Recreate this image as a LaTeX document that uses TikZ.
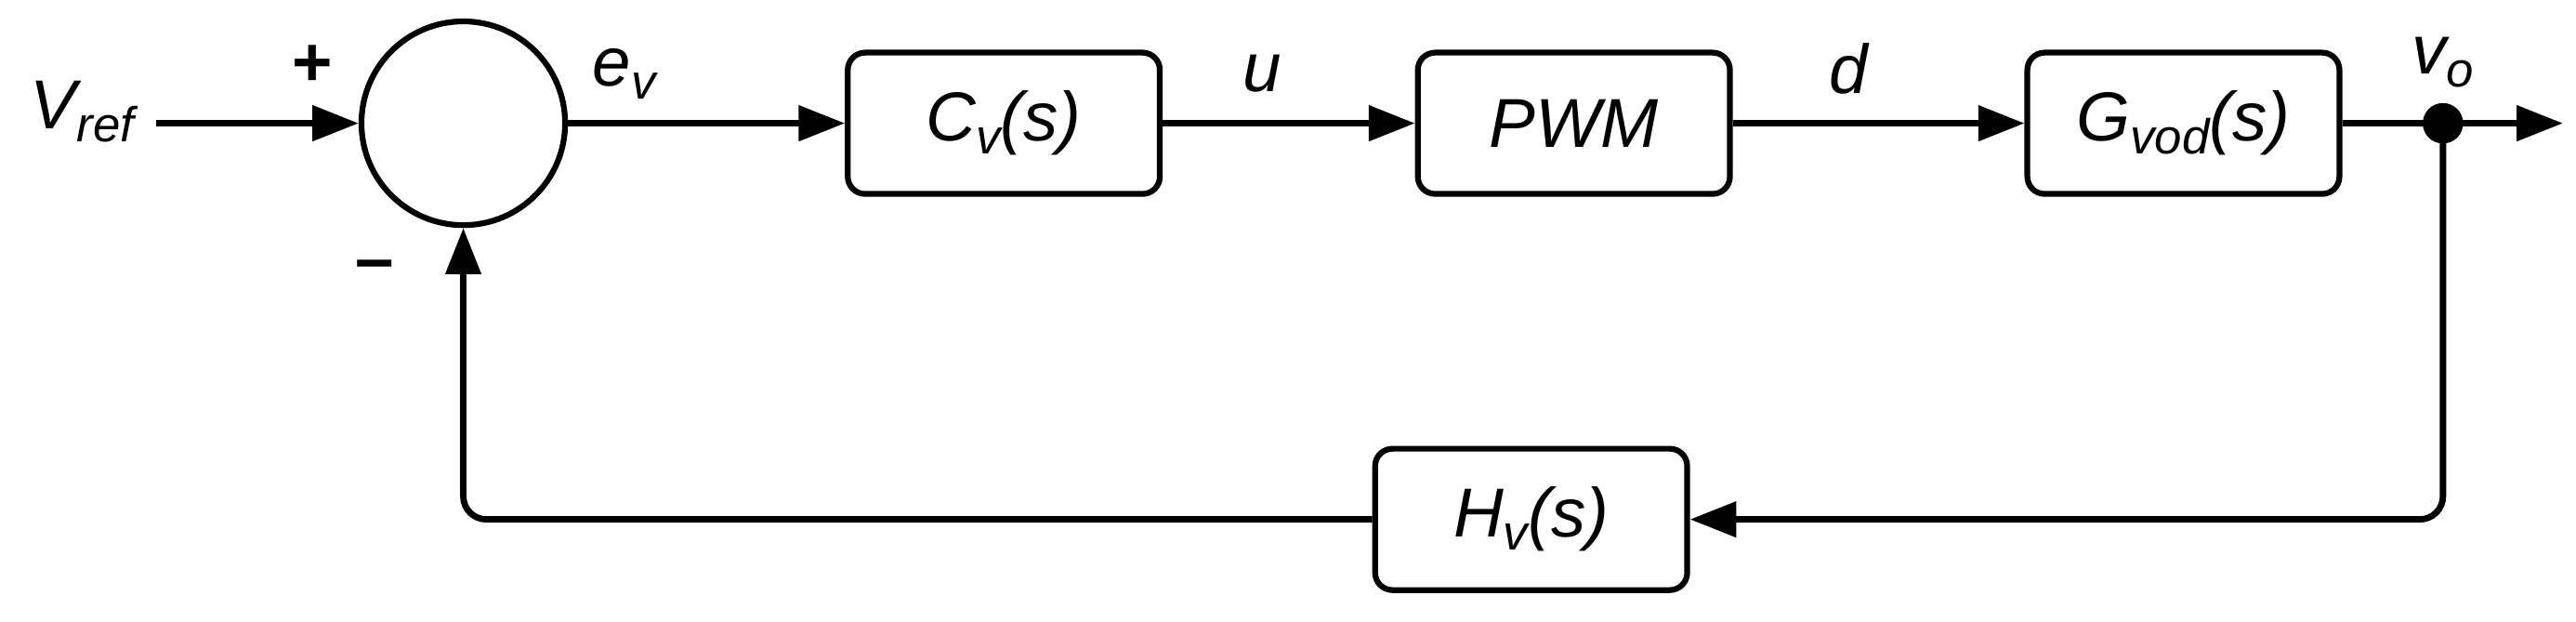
\documentclass[tikz,border=0pt]{standalone}
\usepackage{fontspec}
\setmainfont{Liberation Sans}
\usetikzlibrary{arrows.meta}
\newcommand{\lo}[1]{\raisebox{-0.35ex}{\fontsize{17}{20}\selectfont #1}}
\begin{document}
\begin{tikzpicture}[x=0.02cm,y=-0.02cm,
  font=\fontsize{24}{28}\selectfont\itshape,
  blk/.style={draw,line width=2pt,rounded corners=6pt,minimum width=3.8cm,minimum height=1.72cm,inner sep=0pt},
  lin/.style={line width=2.2pt},
  arr/.style={lin,-{Triangle[length=16pt,width=12pt]}},
  lbl/.style={inner sep=0pt}]
\useasboundingbox (0,0) rectangle (1568,378);
\node[draw,circle,line width=2pt,minimum size=2.48cm,inner sep=0pt] (sum) at (282,75) {};
\node[blk] (cv) at (611,75) {C\lo{v}(s)};
\node[blk] (pwm) at (958,75) {PWM};
\node[blk] (g) at (1329,75) {G\lo{vod}(s)};
\node[blk] (h) at (932,316) {H\lo{v}(s)};
\coordinate (in) at (95,75);
\coordinate (dot) at (1487,75);
\coordinate (out) at (1560,75);
\coordinate (c1) at (1487,316);
\coordinate (c2) at (282,316);
\fill (dot) circle (7pt);
\draw[arr] (in) -- (sum);
\draw[arr] (sum) -- (cv);
\draw[arr] (cv) -- (pwm);
\draw[arr] (pwm) -- (g);
\draw[arr] (g.east) -- (out);
\draw[arr,rounded corners=8pt] (dot) -- (c1) -- (h.east);
\draw[arr,rounded corners=8pt] (h.west) -- (c2) -- (sum.south);
\node[lbl] (vref) at (50,68) {V\lo{ref}};
\node[lbl] (plus) at (190,40) {\upshape\bfseries +};
\node[lbl] (minus) at (228,165) {\upshape\bfseries --};
\node[lbl] (ev) at (380,45) {e\lo{v}};
\node[lbl] (u) at (768,45) {u};
\node[lbl] (d) at (1125,42) {d};
\node[lbl] (vo) at (1487,38) {v\lo{o}};
\end{tikzpicture}
\end{document}
